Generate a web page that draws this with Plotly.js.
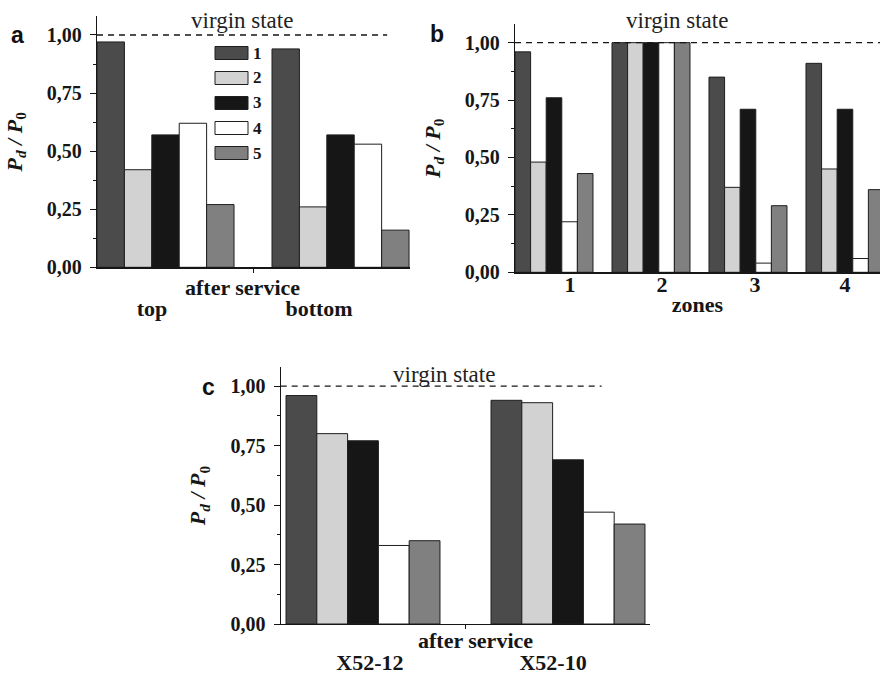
<!DOCTYPE html>
<html>
<head>
<meta charset="utf-8">
<script src="https://cdn.plot.ly/plotly-3.0.1.min.js"></script>
<style>
  html, body { margin: 0; padding: 0; background: #fff; }
  #chart { width: 880px; height: 677px; }
</style>
</head>
<body>
<div id="chart"></div>
<script>
// Relative burst pressure P_d / P_0 of specimens 1-5, virgin state = 1
const seriesNames = ['1', '2', '3', '4', '5'];
const virginLevel = 1.0;

// (a) after service: top and bottom of the pipe
const catsA = ['top', 'bottom'];
const a1 = [0.97, 0.94];
const a2 = [0.42, 0.26];
const a3 = [0.57, 0.57];
const a4 = [0.62, 0.53];
const a5 = [0.27, 0.16];

// (b) by zone
const zonesB = ['1', '2', '3', '4'];
const b1 = [0.96, 1.00, 0.85, 0.91];
const b2 = [0.48, 1.00, 0.37, 0.45];
const b3 = [0.76, 1.00, 0.71, 0.71];
const b4 = [0.22, 1.00, 0.04, 0.06];
const b5 = [0.43, 1.00, 0.29, 0.36];

// (c) after service: two steel grades
const catsC = ['X52-12', 'X52-10'];
const c1 = [0.96, 0.94];
const c2 = [0.80, 0.93];
const c3 = [0.77, 0.69];
const c4 = [0.33, 0.47];
const c5 = [0.35, 0.42];

const yTicks = [0, 0.25, 0.5, 0.75, 1.0];

// ---- styling ----
const W = 880, H = 677;
const fx = p => p / W;          // pixel -> paper (x)
const fy = p => 1 - p / H;      // pixel -> paper (y)
const serif = '"Liberation Serif"';
const sans = '"Liberation Sans"';
const ink = '#161616';
const edge = '#1e1e1e';
const fills = ['#4b4b4b', '#d1d2d1', '#161616', '#ffffff', '#808080'];

const traces = [];
function addPanel(xs, seriesVals, xa, ya, groupFrac, showLegend) {
  const w = groupFrac / seriesVals.length;
  seriesVals.forEach((vals, k) => {
    traces.push({
      type: 'bar', x: xs, y: vals, name: seriesNames[k],
      xaxis: xa, yaxis: ya,
      width: w, offset: -groupFrac / 2 + k * w,
      marker: { color: fills[k], line: { color: edge, width: 1 } },
      showlegend: showLegend, hoverinfo: 'skip'
    });
  });
}
const idxA = catsA.map((_, i) => i);
const idxB = zonesB.map(z => Number(z));
const idxC = catsC.map((_, i) => i);
addPanel(idxA, [a1, a2, a3, a4, a5], 'x', 'y', 0.783, false);
addPanel(idxB, [b1, b2, b3, b4, b5], 'x2', 'y2', 0.804, false);
addPanel(idxC, [c1, c2, c3, c4, c5], 'x3', 'y3', 0.751, false);

const tickFont = { family: serif, size: 20, weight: 'bold', color: ink };
const labFont = { family: serif, size: 22, weight: 'bold', color: ink };
const yTitle = '<i>P<sub>d</sub> / P</i><sub>0</sub>';

function yAxis(domain, anchor) {
  return {
    domain: domain, anchor: anchor, range: [0, 1.08],
    tickmode: 'array', tickvals: yTicks, tickformat: '.2f',
    ticks: 'outside', ticklen: 6, tickwidth: 1, tickcolor: ink,
    minor: { tickmode: 'array', tickvals: [0.125, 0.375, 0.625, 0.875], ticks: 'outside', ticklen: 3, tickwidth: 1, tickcolor: ink },
    ticklabelstandoff: 4,
    showline: true, linecolor: ink, linewidth: 1.2,
    showgrid: false, zeroline: false,
    tickfont: tickFont,
    title: { text: yTitle, font: labFont, standoff: 18 }
  };
}
function xAxis(domain, anchor, range, tickPos, tickText, boundaries, standoff) {
  const ax = {
    domain: domain, anchor: anchor, range: range,
    tickmode: 'array', tickvals: tickPos, ticktext: tickText, ticks: '',
    ticklabelstandoff: standoff,
    showline: true, linecolor: ink, linewidth: 1.2,
    showgrid: false, zeroline: false,
    tickfont: labFont
  };
  if (boundaries.length) {
    ax.minor = { tickmode: 'array', tickvals: boundaries, ticks: 'outside', ticklen: 4, tickwidth: 1, tickcolor: ink };
  }
  return ax;
}

const dashed = (xref, yref, x1) => ({
  type: 'line', xref: xref, yref: yref, x0: 0, x1: x1,
  y0: virginLevel, y1: virginLevel,
  line: { color: ink, width: 1.3, dash: '6px,5px' }, layer: 'above'
});
const note = (text, x, y, font, anchor) => ({
  text: text, x: fx(x), y: fy(y), xref: 'paper', yref: 'paper',
  xanchor: anchor || 'center', yanchor: 'middle', showarrow: false, font: font
});
const plainFont = { family: serif, size: 23, color: '#222' };
const letterFont = { family: sans, size: 23, weight: 'bold', color: '#111' };
const keyFont = { family: serif, size: 17, weight: 'bold', color: ink };

// key for panel a: wide swatches with the specimen numbers beside them
const keyShapes = [], keyNotes = [];
seriesNames.forEach((name, k) => {
  const cy = 53 + 25 * k;
  keyShapes.push({
    type: 'rect', xref: 'paper', yref: 'paper',
    x0: fx(215), x1: fx(248), y0: fy(cy + 6.5), y1: fy(cy - 6.5),
    fillcolor: fills[k], line: { color: edge, width: 1 }, layer: 'above'
  });
  keyNotes.push(note(name, 251, cy, keyFont, 'left'));
});

const layout = {
  width: W, height: H,
  margin: { l: 0, r: 0, t: 0, b: 0 },
  paper_bgcolor: '#fff', plot_bgcolor: 'rgba(0,0,0,0)',
  font: { family: serif },
  separators: ', ',
  barmode: 'overlay',
  showlegend: false,
  xaxis: xAxis([fx(97), fx(410)], 'y', [-0.3915, 1.397], [-0.077, 0.877], catsA, [0.5], 21),
  yaxis: yAxis([fy(267.3), fy(16.4)], 'x'),
  xaxis2: Object.assign(xAxis([fx(515), 1], 'y2', [0.598, 4.361], [1.165, 2.113, 3.072, 4.0], zonesB, [], -8),
    { title: { text: 'zones', font: labFont, standoff: 0 } }),
  yaxis2: yAxis([fy(272.3), fy(24.3)], 'x2'),
  xaxis3: xAxis([fx(280.7), fx(650)], 'y3', [-0.4015, 1.40], [0.034, 0.927], catsC, [0.5], 18),
  yaxis3: yAxis([fy(624), fy(367)], 'x3'),
  shapes: [dashed('x domain', 'y', 0.927), dashed('x2 domain', 'y2', 1), dashed('x3 domain', 'y3', 0.869)]
    .concat(keyShapes),
  annotations: [
    note('virgin state', 242, 21, plainFont),
    note('virgin state', 677, 21, plainFont),
    note('virgin state', 444, 374, plainFont),
    note('after service', 242, 287, labFont),
    note('after service', 475, 640, labFont),
    note('a', 17, 35, letterFont),
    note('b', 437, 34, letterFont),
    note('c', 208, 387, letterFont)
  ].concat(keyNotes)
};

Plotly.newPlot('chart', traces, layout, { staticPlot: true, displayModeBar: false });
</script>
</body>
</html>
